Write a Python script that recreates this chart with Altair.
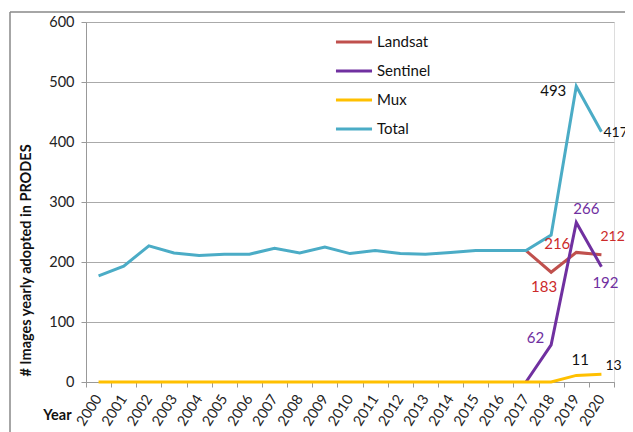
import altair as alt
import pandas as pd

years = [str(y) for y in range(2000, 2021)]
total = [177, 193, 227, 215, 211, 213, 213, 223, 215, 225, 214, 219, 214, 213, 216, 219, 219, 219, 245, 493, 417]
landsat_years = ["2017", "2018", "2019", "2020"]
landsat = [219, 183, 216, 212]
sentinel_years = ["2017", "2018", "2019", "2020"]
sentinel = [0, 62, 266, 192]
mux = [0] * 19 + [11, 13]

series_order = ["Landsat", "Sentinel", "Mux", "Total"]
series_colors = ["#C0504D", "#7030A0", "#FFC000", "#4BACC6"]

rows = []
for y, v in zip(landsat_years, landsat):
    rows.append({"Year": y, "value": v, "series": "Landsat"})
for y, v in zip(sentinel_years, sentinel):
    rows.append({"Year": y, "value": v, "series": "Sentinel"})
for y, v in zip(years, mux):
    rows.append({"Year": y, "value": v, "series": "Mux"})
for y, v in zip(years, total):
    rows.append({"Year": y, "value": v, "series": "Total"})
df = pd.DataFrame(rows)

FONT = "Lato"
W, H = 528, 360

xenc = alt.X("Year:O", sort=years,
             scale=alt.Scale(type="band", paddingInner=0, paddingOuter=0),
             axis=alt.Axis(title="Year", labelAngle=-57, labelFontSize=14.5, labelColor="#222",
                           labelFont=FONT, tickBand="extent", tickSize=5, tickColor="#999",
                           domainColor="#999", grid=False, labelPadding=9,
                           titleFont=FONT, titleFontSize=14.5, titleFontWeight="bold",
                           titleColor="#111", titleX=-29, titleY=26))
yenc = alt.Y("value:Q", scale=alt.Scale(domain=[0, 600]),
             axis=alt.Axis(title="# Images yearly adopted in PRODES", values=[0, 100, 200, 300, 400, 500, 600],
                           labelFontSize=14.5, labelColor="#222", labelFont=FONT, tickSize=5,
                           tickColor="#999", domainColor="#999", gridColor="#aaa", labelPadding=7,
                           titleFont=FONT, titleFontSize=14.5, titleFontWeight="bold", titleColor="#111",
                           titleX=-53, titleY=238))
color = alt.Color("series:N",
                  scale=alt.Scale(domain=series_order, range=series_colors),
                  legend=alt.Legend(title=None, orient="none", legendX=248, legendY=12,
                                    symbolType="stroke", symbolSize=1300, symbolStrokeWidth=3,
                                    labelFontSize=15, labelFont=FONT, labelColor="#111",
                                    clipHeight=16, rowPadding=13, labelOffset=3))

base = alt.Chart(df)
layers = []
for s in ["Landsat", "Total", "Sentinel", "Mux"]:
    layers.append(base.transform_filter(alt.datum.series == s)
                  .mark_line(strokeWidth=3)
                  .encode(x=xenc, y=yenc, color=color))

labels = [
    ("Total", "2019", "#111", "right", -10, 5, 15),
    ("Total", "2020", "#111", "left", 2, 1, 14),
    ("Sentinel", "2019", "#7030A0", "center", 10, -13, 15),
    ("Sentinel", "2020", "#7030A0", "center", 4, 16, 15),
    ("Landsat", "2019", "#CC2A2A", "right", -6, -8, 15),
    ("Landsat", "2018", "#CC2A2A", "center", -7, 15, 15),
    ("Landsat", "2020", "#CC2A2A", "left", -1, -18, 14),
    ("Sentinel", "2018", "#7030A0", "right", -7, -7, 15),
    ("Mux", "2019", "#111", "center", 4, -15, 15),
    ("Mux", "2020", "#111", "left", 4, -8, 14),
]
for s, yr, col, al, dx, dy, fs in labels:
    layers.append(base.transform_filter((alt.datum.series == s) & (alt.datum.Year == yr))
                  .mark_text(font=FONT, fontSize=fs, color=col, align=al, baseline="middle", dx=dx, dy=dy)
                  .encode(x=xenc, y=yenc, text="value:Q"))

frame_left = alt.Chart(pd.DataFrame({"k": [0]})).mark_rule(color="#888", strokeWidth=1.5).encode(
    x=alt.value(-76), y=alt.value(-10), y2=alt.value(H + 60))
frame_top = alt.Chart(pd.DataFrame({"k": [0]})).mark_rule(color="#888", strokeWidth=1.5).encode(
    x=alt.value(-76), x2=alt.value(W + 60), y=alt.value(-10))

chart = alt.layer(*layers, frame_left, frame_top).properties(
    width=W, height=H,
    autosize=alt.AutoSizeParams(type="none"),
    padding={"left": 78, "top": 14, "right": 11, "bottom": 50},
).configure_view(stroke=None).configure(background="white")

chart.save("out.html", embed_options={"renderer": "svg", "actions": False})
